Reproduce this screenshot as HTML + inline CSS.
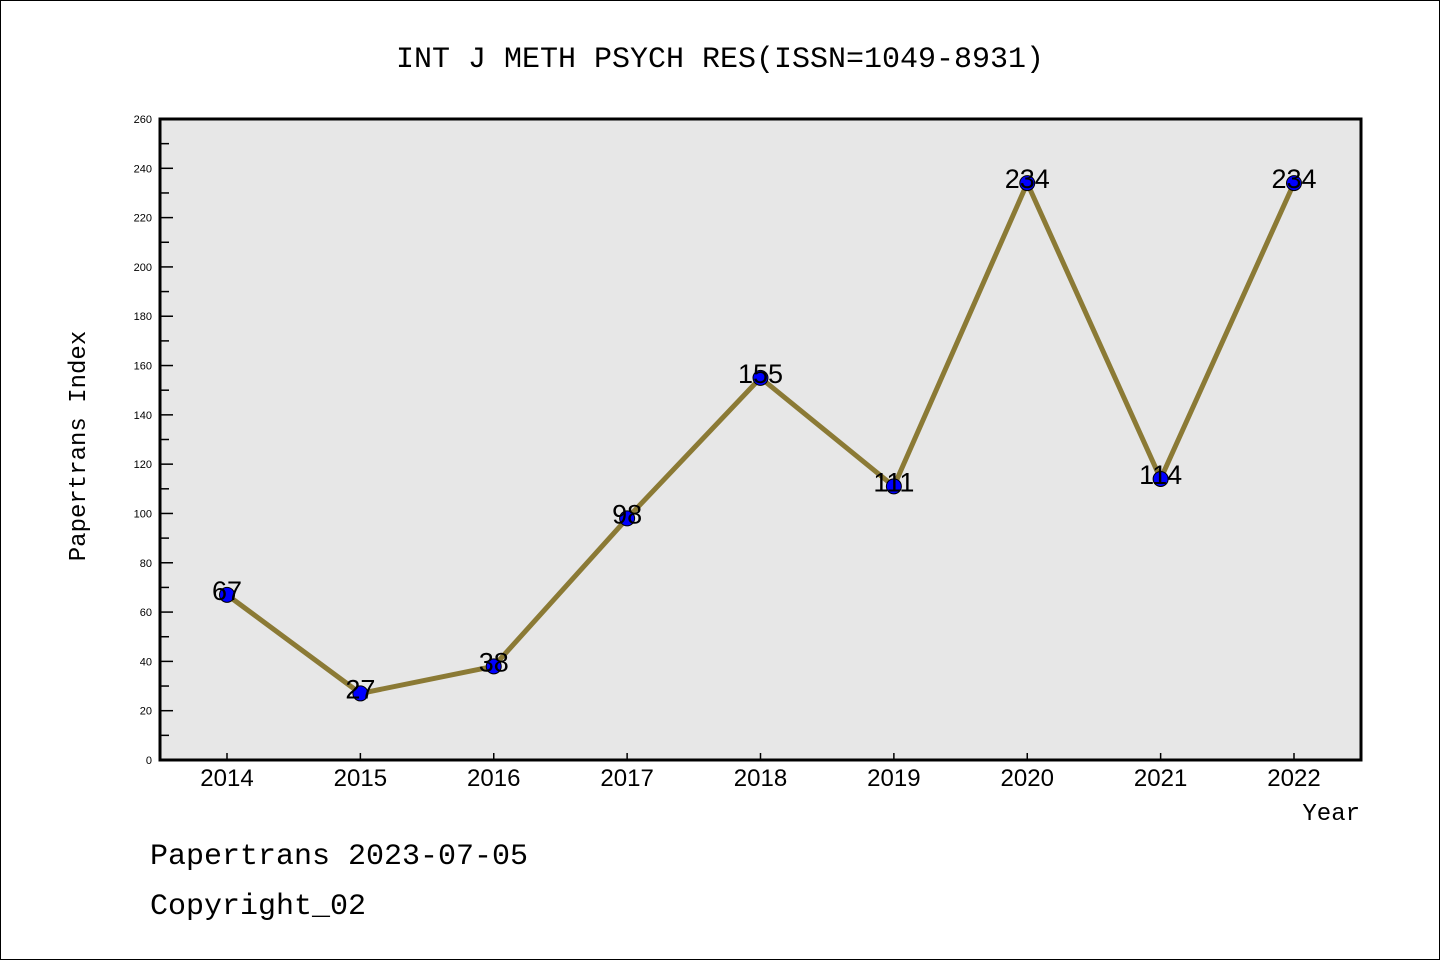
<!DOCTYPE html>
<html><head><meta charset="utf-8"><style>
body{margin:0;background:#fff}
svg{display:block}
text{font-family:"Liberation Sans","WenQuanYi Zen Hei",sans-serif}
.mono{font-family:"WenQuanYi Zen Hei","Liberation Mono",monospace}
</style></head><body>
<svg id="c" width="1440" height="960" viewBox="0 0 1440 960">
<rect x="0.5" y="0.5" width="1439" height="959" fill="#fff" stroke="#000"/>
<text class="mono" x="720" y="67" font-size="30" text-anchor="middle">INT J METH PSYCH RES(ISSN=1049-8931)</text>
<rect x="160" y="119" width="1201" height="641" fill="#e7e7e7"/>
<g id="axes"></g>
<g id="marks"></g>
<rect x="160" y="119" width="1201" height="641" fill="none" stroke="#000" stroke-width="3"/>
<text class="mono" x="85" y="446" font-size="24" text-anchor="middle" transform="rotate(-90 85 446)">Papertrans Index</text>
<text class="mono" x="1360" y="820" font-size="24" text-anchor="end">Year</text>
<text class="mono" x="150" y="864" font-size="30">Papertrans 2023-07-05</text>
<text class="mono" x="150" y="914" font-size="30">Copyright_02</text>
</svg>
<script>
const years=["2014","2015","2016","2017","2018","2019","2020","2021","2022"];
const values=[67,27,38,98,155,111,234,114,234];
const yTicks=[0,20,40,60,80,100,120,140,160,180,200,220,240,260];
const NS="http://www.w3.org/2000/svg";
const x0=227,x1=1294,yb=760,yt=119,ymax=260;
function xs(i){return x0+(x1-x0)*i/(years.length-1);}
function ys(v){return yb-(yb-yt)*v/ymax;}
function mk(t,a,p){const e=document.createElementNS(NS,t);for(const k in a)e.setAttribute(k,a[k]);p.appendChild(e);return e;}
const ax=document.getElementById('axes'),mg=document.getElementById('marks');
yTicks.forEach(v=>{
const y=ys(v);
const l=mk('line',{x1:160,x2:173,y1:y,y2:y,stroke:'#000','stroke-width':1.5},ax);


const t=mk('text',{x:152,y:y+4,'font-size':11,'text-anchor':'end'},ax);t.textContent=v;


if(v<ymax){const ym=ys(v+10);const m=mk('line',{x1:160,x2:169,y1:ym,y2:ym,stroke:'#000','stroke-width':1.5},ax);

}
});
years.forEach((yr,i)=>{
const x=xs(i);
const l=mk('line',{x1:x,x2:x,y1:760,y2:753,stroke:'#000','stroke-width':1.5},ax);


const t=mk('text',{x:x,y:786,'font-size':24,'text-anchor':'middle'},ax);t.textContent=yr;


});
const pl=mk('polyline',{points:values.map((v,i)=>xs(i)+','+ys(v)).join(' '),fill:'none',stroke:'#8b7a35','stroke-width':5,'stroke-linejoin':'miter'},mg);


values.forEach((v,i)=>{
const c=mk('circle',{cx:xs(i),cy:ys(v),r:7.5,fill:'#0000ff',stroke:'#000','stroke-width':1},mg);


const t=mk('text',{x:xs(i),y:ys(v)+5,'font-size':27,'text-anchor':'middle'},mg);t.textContent=v;


});
</script>
</body></html>
